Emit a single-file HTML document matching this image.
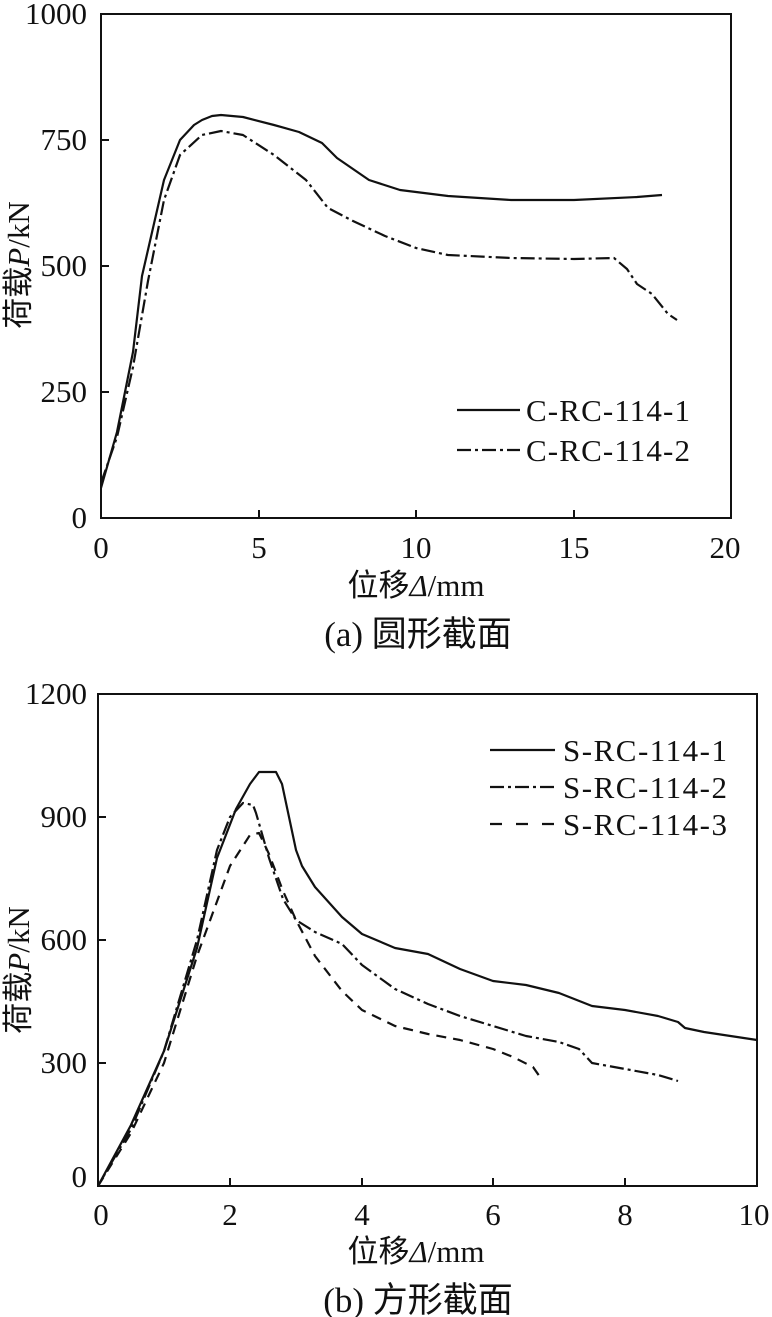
<!DOCTYPE html>
<html><head><meta charset="utf-8"><style>
html,body{margin:0;padding:0;background:#fff}
svg{display:block}
text{font-family:"Liberation Serif","Noto Serif CJK SC",serif;fill:#111}
.t{font-size:31px}
.lg{font-size:31px}
.cj{font-family:"Liberation Serif","Noto Sans CJK SC",sans-serif}
</style></head><body>
<svg width="772" height="1317" viewBox="0 0 772 1317" xmlns="http://www.w3.org/2000/svg">
<g stroke="#111" fill="none" stroke-width="2">
<rect x="101" y="14" width="630" height="504"/>
<path d="M259 518v-8M416 518v-8M574 518v-8M101 392h8M101 266h8M101 140h8"/>
<rect x="98" y="694" width="659" height="492"/>
<path d="M230 1186v-8M362 1186v-8M493 1186v-8M625 1186v-8M98 1063h8M98 940h8M98 817h8"/>
</g>
<g class="t" text-anchor="end">
<text x="87" y="24">1000</text><text x="87" y="150">750</text><text x="87" y="276">500</text><text x="87" y="402">250</text><text x="87" y="528">0</text>
<text x="87" y="704">1200</text><text x="87" y="827">900</text><text x="87" y="950">600</text><text x="87" y="1073">300</text><text x="87" y="1187">0</text>
</g>
<g class="t" text-anchor="middle">
<text x="101" y="558">0</text><text x="259" y="558">5</text><text x="416" y="558">10</text><text x="574" y="558">15</text><text x="725" y="558">20</text>
<text x="101" y="1225">0</text><text x="230" y="1225">2</text><text x="362" y="1225">4</text><text x="493" y="1225">6</text><text x="625" y="1225">8</text><text x="754" y="1225">10</text>
</g>
<text class="cj" x="416" y="596" text-anchor="middle" font-size="31">位移<tspan font-style="italic">Δ</tspan>/mm</text>
<text class="cj" x="416" y="1262" text-anchor="middle" font-size="31">位移<tspan font-style="italic">Δ</tspan>/mm</text>
<text class="cj" x="418" y="646" text-anchor="middle" font-size="35">(a) 圆形截面</text>
<text class="cj" x="418" y="1312" text-anchor="middle" font-size="35">(b) 方形截面</text>
<text class="cj" transform="translate(29,265) rotate(-90)" text-anchor="middle" font-size="31">荷载<tspan font-style="italic">P</tspan>/kN</text>
<text class="cj" transform="translate(29,970) rotate(-90)" text-anchor="middle" font-size="31">荷载<tspan font-style="italic">P</tspan>/kN</text>
<g fill="none" stroke="#111" stroke-width="2.2" stroke-linejoin="round">
<polyline points="101,488 117,432 133,352 142,276 164,180 180,140 194,125 202,120 212,116 221,115 243,117 274,125 299,132 322,143 337,158 369,180 400,190 448,196 511,200 574,200 637,197 662,195"/>
<polyline stroke-dasharray="14,4,3,4" points="101,483 117,437 133,367 148,281 164,200 180,155 202,135 221,131 243,135 274,155 306,180 328,208 353,221 385,236 416,248 448,255 511,258 574,259 614,258 627,269 637,284 652,294 668,314 677,320"/>
<polyline points="98,1186 131,1125 164,1051 197,948 217,858 236,809 250,784 259,772 276,772 282,784 296,850 302,866 315,887 342,917 362,934 395,948 428,954 460,969 493,981 526,985 559,993 592,1006 625,1010 658,1016 678,1022 685,1028 704,1032 757,1040"/>
<polyline stroke-dasharray="14,4,3,4" points="98,1186 131,1129 164,1051 197,940 217,850 230,817 243,803 253,805 256,813 269,858 283,899 296,920 315,932 342,944 362,965 395,989 428,1004 460,1016 493,1026 526,1036 559,1042 579,1049 592,1063 625,1069 658,1075 678,1081"/>
<polyline stroke-dasharray="10,7" points="98,1186 131,1133 164,1063 197,956 230,866 250,835 259,833 269,854 283,891 296,920 315,956 342,991 362,1010 395,1026 428,1034 460,1040 493,1049 513,1057 533,1067 540,1077"/>
</g>
<g stroke="#111" stroke-width="2.2">
<line x1="457" y1="410" x2="520" y2="410"/>
<line x1="457" y1="450" x2="520" y2="450" stroke-dasharray="14,4,3,4"/>
<line x1="490" y1="750" x2="555" y2="750"/>
<line x1="490" y1="787" x2="555" y2="787" stroke-dasharray="14,4,3,4"/>
<line x1="490" y1="824" x2="555" y2="824" stroke-dasharray="12,14"/>
</g>
<g class="lg">
<text x="526" y="421" textLength="164">C-RC-114-1</text><text x="526" y="461" textLength="164">C-RC-114-2</text>
<text x="563" y="761" textLength="164">S-RC-114-1</text><text x="563" y="798" textLength="164">S-RC-114-2</text><text x="563" y="835" textLength="164">S-RC-114-3</text>
</g>
</svg>
</body></html>
